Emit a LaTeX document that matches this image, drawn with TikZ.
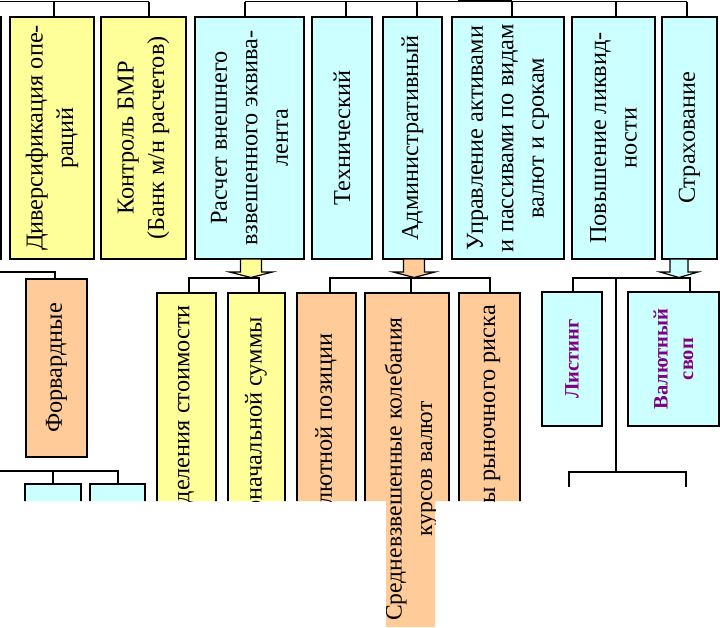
\documentclass[tikz,border=0pt]{standalone}
\usepackage{fontspec}
\setmainfont{Liberation Serif}
\usetikzlibrary{calc}
\definecolor{yel}{HTML}{FFFF99}
\definecolor{cya}{HTML}{CCFFFF}
\definecolor{pea}{HTML}{FFCC99}
\definecolor{pur}{HTML}{800080}
\newcommand\blkarrow[4]{% centre x, colour, half shaft, half wing
  \filldraw[fill=#2, draw=black, line width=1.2pt]
    (#1-#3,259) -- (#1+#3,259) -- (#1+#3,272) -- (#1+#4,272) -- (#1,277.5)
    -- (#1-#4,272) -- (#1-#3,272) -- cycle;}
\begin{document}
\begin{tikzpicture}[x=1pt,y=-1pt,
  box/.style={draw=black, line width=1.6pt, rectangle, inner sep=0pt, rotate=90,
    align=center, font=\fontsize{24.3}{30.5}\selectfont},
  ybox/.style={box, fill=yel},
  cbox/.style={box, fill=cya},
  pbox/.style={box, fill=pea},
  txt/.style={rotate=90, inner sep=0pt, align=center, font=\fontsize{24.3}{30.5}\selectfont},
  btxt/.style={text=pur, font=\bfseries\fontsize{20.5}{25.5}\selectfont},
  conn/.style={line width=1.6pt}]
\useasboundingbox (0,0) rectangle (720,627);
\begin{scope}
\clip (0,0) rectangle (720,501) (386,501) rectangle (435,627);
% ---- top row boxes
\node[box, minimum width=242pt, minimum height=80pt] (lft) at (-39,138) {};
\node[ybox, minimum width=242pt, minimum height=84pt] (div) at (52,138) {Диверсификация опе-\\раций};
\node[ybox, minimum width=242pt, minimum height=85pt] (ctrl) at (143.5,138) {Контроль БМР\\(Банк м/н расчетов)};
\node[cbox, minimum width=242pt, minimum height=109pt] (calc) at (249.5,138) {Расчет внешнего\\взвешенного эквива-\\лента};
\node[cbox, minimum width=242pt, minimum height=60pt] (tech) at (342,138) {Технический};
\node[cbox, minimum width=242pt, minimum height=59pt] (adm) at (412.5,138) {Административный};
\node[cbox, minimum width=242pt, minimum height=112pt] (mgmt) at (508,138) {Управление активами\\и пассивами по видам\\валют и срокам};
\node[cbox, minimum width=242pt, minimum height=83pt] (liq) at (613.5,138) {Повышение ликвид-\\ности};
\node[cbox, minimum width=242pt, minimum height=55pt] (ins) at (689.5,138) {Страхование};
% ---- top bus
\coordinate (tL) at (-5,1.5);
\foreach \n/\x in {div/54,ctrl/149,calc/245,tech/346,adm/417,mgmt/512,liq/616,ins/687}
  \coordinate (t\n) at (\x,1.5);
\draw[conn] (tL) -- (tctrl);
\draw[conn] (tcalc) -- (tins);
\foreach \n in {div,ctrl,calc,tech,adm,mgmt,liq,ins}
  \draw[conn] (t\n) -- (t\n |- \n.east);
\node[draw, fill=white, line width=1.6pt, minimum width=52pt, minimum height=30pt, inner sep=0pt] (par) at (485,-14.5) {};
% ---- block arrows
\blkarrow{251}{yel}{10.5}{21.5}
\blkarrow{414}{pea}{10.5}{21}
\blkarrow{679}{cya}{9}{19}
% ---- second row
\node[pbox, minimum width=178pt, minimum height=61pt] (fwd) at (56.5,368) {Форвардные};
\node[cbox, minimum width=160pt, minimum height=56pt] (c1) at (53,564) {};
\node[cbox, minimum width=160pt, minimum height=55pt] (c2) at (117.5,564) {};
\node[ybox, minimum width=300pt, minimum height=59pt] (m1) at (186.5,443) {};
\node[ybox, minimum width=300pt, minimum height=57pt] (m2) at (256.5,443) {};
\node[pbox, minimum width=300pt, minimum height=59pt] (p1) at (326.5,443) {};
\node[pbox, minimum width=360pt, minimum height=84pt] (p2) at (407,473) {};
\node[pbox, minimum width=300pt, minimum height=61pt] (p3) at (489.5,443) {};
\node[cbox, btxt, minimum width=134pt, minimum height=60pt] (list) at (572,359) {Листинг};
\node[cbox, btxt, minimum width=134pt, minimum height=91pt] (swap) at (673.5,359) {Валютный\\своп};
\node[txt, anchor=east] (m1t) at (186,305) {деления стоимости};
\node[txt, anchor=east] (m2t) at (256,317) {оначальной суммы};
\node[txt, anchor=east] (p1t) at (326,333) {лютной позиции};
\node[txt, font=\fontsize{23.6}{30.5}\selectfont] (p2t) at (411,469) {Средневзвешенные колебания\\курсов валют};
\node[txt, anchor=east] (p3t) at (492,305) {ы рыночного риска};
% ---- second-level connectors
\coordinate (f0) at (-5,272); \coordinate (f1) at (55,272);
\draw[conn] (f0) -- (f1) -- (f1 |- fwd.east);
\coordinate (g0) at (-5,471); \coordinate (g1) at (53,471); \coordinate (g2) at (118,471);
\draw[conn] (g0) -- (g2) -- (g2 |- c2.east);
\draw[conn] (g1) -- (g1 |- c1.east);
\coordinate (b1) at (189,278); \coordinate (b2) at (259,278);
\draw[conn] (b1 |- m1.east) -- (b1) -- (b2) -- (b2 |- m2.east);
\coordinate (a1) at (330,278); \coordinate (a2) at (411,278); \coordinate (a3) at (490,278);
\draw[conn] (a1 |- p1.east) -- (a1) -- (a3) -- (a3 |- p3.east);
\draw[conn] (a2) -- (a2 |- p2.east);
\coordinate (h1) at (573,278); \coordinate (h2) at (690,278); \coordinate (hc) at (616,278);
\coordinate (hd) at (616,472);
\draw[conn] (h1 |- list.east) -- (h1) -- (h2) -- (h2 |- swap.east);
\draw[conn] (hc) -- (hd);
\coordinate (k1) at (569,472); \coordinate (k2) at (686,472);
\coordinate (k1e) at (569,487); \coordinate (k2e) at (686,487);
\draw[conn] (k1e) -- (k1) -- (k2) -- (k2e);
\end{scope}
\end{tikzpicture}
\end{document}
